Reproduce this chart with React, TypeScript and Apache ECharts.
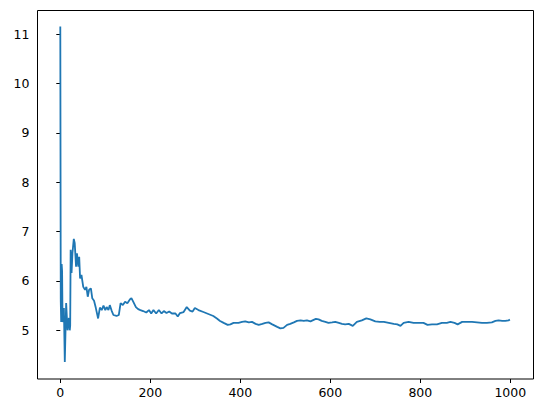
import React, { useEffect, useRef } from "react";
import * as echarts from "echarts";

const xValues = [
  0, 1, 2, 3, 4, 5, 6, 8, 10, 13, 16, 19, 21, 22, 23, 25, 27, 30, 32, 35, 37, 40, 42, 44, 47, 51, 55, 58, 61, 64, 68, 71, 75, 79, 84, 88, 92, 96, 100,
  103, 107, 110, 114, 118, 125, 130, 134, 139, 144, 149, 155, 158, 162, 168, 173, 178, 184, 191, 197, 202, 207, 213, 219, 225, 230, 236, 242, 248,
  256, 261, 266, 274, 281, 288, 294, 299, 307, 318, 329, 340, 348, 355, 363, 372, 378, 385, 396, 404, 411, 419, 426, 434, 441, 449, 456, 463, 471,
  482, 489, 496, 504, 511, 519, 526, 534, 541, 548, 556, 563, 568, 574, 581, 589, 596, 604, 611, 619, 626, 633, 641, 650, 659, 670, 680, 689, 700,
  710, 719, 730, 741, 749, 756, 763, 774, 785, 796, 807, 816, 826, 837, 848, 859, 867, 876, 883, 893, 904, 915, 926, 937, 948, 959, 967, 974, 982,
  989, 996, 999,
];
const yValues = [
  11.15, 5.6, 5.17, 6.34, 6.2, 5.17, 5.2, 5.45, 4.36, 5.55, 5.0, 5.25, 5.0, 5.1, 6.63, 6.16, 6.56, 6.85, 6.77, 6.29, 6.56, 6.29, 6.49, 6.05, 6.12,
  5.88, 5.82, 5.88, 5.68, 5.82, 5.85, 5.65, 5.6, 5.45, 5.24, 5.46, 5.41, 5.5, 5.41, 5.47, 5.41, 5.51, 5.4, 5.31, 5.29, 5.31, 5.55, 5.51, 5.58, 5.55,
  5.63, 5.65, 5.58, 5.47, 5.43, 5.41, 5.39, 5.36, 5.41, 5.34, 5.41, 5.34, 5.41, 5.34, 5.39, 5.35, 5.38, 5.34, 5.34, 5.28, 5.35, 5.37, 5.47, 5.4,
  5.38, 5.45, 5.41, 5.37, 5.33, 5.29, 5.24, 5.19, 5.15, 5.11, 5.12, 5.15, 5.15, 5.17, 5.18, 5.16, 5.17, 5.13, 5.11, 5.13, 5.15, 5.16, 5.12, 5.07,
  5.04, 5.05, 5.11, 5.13, 5.16, 5.19, 5.2, 5.19, 5.2, 5.18, 5.21, 5.23, 5.22, 5.19, 5.17, 5.15, 5.16, 5.17, 5.15, 5.13, 5.12, 5.13, 5.09, 5.17,
  5.2, 5.24, 5.22, 5.18, 5.17, 5.17, 5.15, 5.13, 5.12, 5.09, 5.15, 5.17, 5.15, 5.15, 5.15, 5.11, 5.12, 5.12, 5.15, 5.15, 5.17, 5.15, 5.12, 5.17,
  5.17, 5.17, 5.16, 5.15, 5.15, 5.16, 5.19, 5.2, 5.19, 5.19, 5.2, 5.22,
];

const xTickMin = 0;
const xTickMax = 1000;
const xTickStep = 200;
const yTickMin = 5;
const yTickMax = 11;
const yTickStep = 1;

export default function App() {
  const ref = useRef<HTMLDivElement>(null);
  useEffect(() => {
    if (!ref.current) return;
    const chart = echarts.init(ref.current, null, { renderer: "svg" });
    const data = xValues.map((x, i) => [x, yValues[i]]);
    const font = "DejaVu Sans";
    chart.setOption({
      animation: false,
      backgroundColor: "#ffffff",
      grid: { left: 60.3, right: 32.7, top: 34, bottom: 82.7, containLabel: false },
      xAxis: {
        type: "value",
        min: xTickMin,
        max: xTickMax,
        interval: xTickStep,
        offset: 48.7,
        axisLine: { show: false },
        axisTick: { show: true, length: 4, lineStyle: { color: "#000", width: 1 } },
        axisLabel: {
          color: "#000",
          fontFamily: font,
          fontSize: 12.5,
          margin: 7,
          formatter: (v: number) => String(v),
        },
        splitLine: { show: false },
      },
      yAxis: {
        type: "value",
        min: yTickMin,
        max: yTickMax,
        interval: yTickStep,
        offset: 22.8,
        axisLine: { show: false },
        axisTick: { show: true, length: 4, lineStyle: { color: "#000", width: 1 } },
        axisLabel: {
          color: "#000",
          fontFamily: font,
          fontSize: 12.5,
          margin: 8,
          formatter: (v: number) => String(v),
        },
        splitLine: { show: false },
      },
      graphic: [
        {
          type: "rect",
          shape: { x: 37.5, y: 10.5, width: 496, height: 368.5 },
          style: { fill: "none", stroke: "#000", lineWidth: 1 },
          z: 10,
        },
      ],
      series: [
        {
          type: "line",
          data,
          showSymbol: false,
          clip: false,
          lineStyle: { color: "#1f77b4", width: 1.8 },
          itemStyle: { color: "#1f77b4" },
        },
      ],
    });
    return () => chart.dispose();
  }, []);
  return <div ref={ref} style={{ width: 543, height: 413, position: "absolute", left: 0, top: 0 }} />;
}
